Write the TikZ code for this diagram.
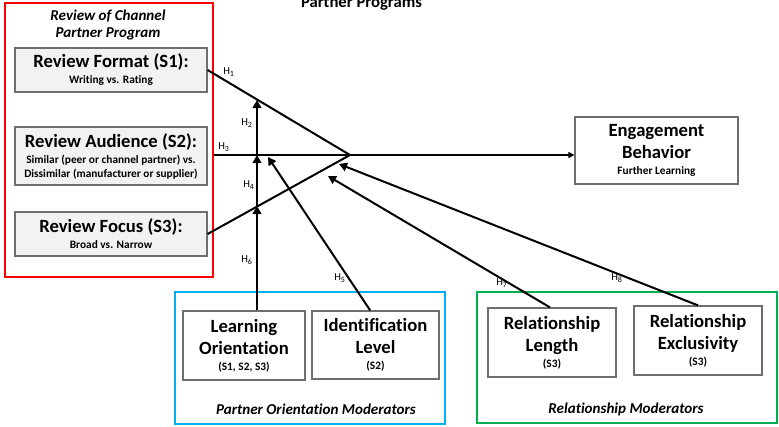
\documentclass[tikz,border=0pt]{standalone}
\usepackage{fontspec}
\setmainfont{Carlito}[Ligatures=NoCommon]
\usetikzlibrary{arrows.meta}

\definecolor{frred}{RGB}{250,0,0}
\definecolor{frblue}{RGB}{0,176,240}
\definecolor{frgreen}{RGB}{0,176,80}
\definecolor{boxline}{RGB}{110,110,110}
\definecolor{boxfill}{RGB}{242,242,242}

\newcommand{\hdfont}{\fontsize{14}{16.5}\selectfont\bfseries}
\newcommand{\smfont}{\fontsize{8.5}{10.5}\selectfont\bfseries}

\tikzset{every picture/.style={line width=0.75pt}}
\tikzset{
  frame/.style={draw, line width=1.5pt, inner sep=0pt},
  framelab/.style={inner sep=0.75pt, align=center, font=\fontsize{11.3}{12.5}\selectfont\bfseries\itshape},
  revbox/.style={draw=boxline, fill=boxfill, line width=0.9pt, inner sep=0pt, align=center, font=\hdfont, minimum width=144pt},
  modbox/.style={draw=boxline, fill=white, line width=0.9pt, inner sep=0pt, align=center, font=\hdfont},
  hlab/.style={inner sep=0.75pt, font=\fontsize{8}{9}\selectfont},
  link/.style={line width=1.5pt},
  hyp/.style={line width=1.5pt, -{Triangle[length=6pt,width=6.5pt]}},
}

\begin{document}
\begin{tikzpicture}[x=0.75pt,y=0.75pt,yscale=-1,xscale=1]
\useasboundingbox (0,0) rectangle (779,426);

%Shape: Frames
\node[frame, draw=frred, minimum width=156pt, minimum height=205.5pt] (review) at (109,140) {};
\node[frame, draw=frblue, minimum width=202.5pt, minimum height=99pt] (partner) at (310,358) {};
\node[frame, draw=frgreen, minimum width=225pt, minimum height=98.25pt] (relation) at (627,357.5) {};

% Text Node
\node[inner sep=0.75pt, anchor=base, font=\fontsize{12.5}{14}\selectfont\bfseries] (title) at (361.5,7) {Partner Programs};
% Text Node
\node[framelab] (revlab) at (108,25) {Review of Channel\\Partner Program};
% Text Node
\node[framelab] (partlab) at (316,409) {Partner Orientation Moderators};
% Text Node
\node[framelab] (rellab) at (626,409) {Relationship Moderators};

%Shape: Rectangle
\node[revbox, minimum height=33pt] (s1) at (111,70) {Review Format (S1):\\[-4.5pt]\smfont Writing vs. Rating};
\node[revbox, minimum height=43.5pt] (s2) at (111,156) {Review Audience (S2):\\[-4.5pt]\smfont Similar (peer or channel partner) vs.\\[-6pt]\smfont Dissimilar (manufacturer or supplier)};
\node[revbox, minimum height=33pt] (s3) at (111,234) {Review Focus (S3):\\[-4.5pt]\smfont Broad vs. Narrow};
\node[modbox, minimum width=122.25pt, minimum height=50.25pt] (eng) at (656.5,150.5) {Engagement\\Behavior\\[-4.5pt]\smfont Further Learning};
\node[modbox, minimum width=91.5pt, minimum height=51.75pt] (lo) at (244,345.5) {Learning\\Orientation\\[-4.5pt]\smfont (S1, S2, S3)};
\node[modbox, minimum width=95.25pt, minimum height=51pt] (il) at (375.5,345) {Identification\\Level\\[-4.5pt]\smfont (S2)};
\node[modbox, minimum width=96pt, minimum height=51.75pt] (rl) at (552,342.5) {Relationship\\Length\\[-4.5pt]\smfont (S3)};
\node[modbox, minimum width=96pt, minimum height=51.75pt] (re) at (698,340.5) {Relationship\\Exclusivity\\[-4.5pt]\smfont (S3)};

%Points
\coordinate (apex) at (350,155);
\coordinate (t2) at (257,100);
\coordinate (t4) at (257,155);
\coordinate (t6) at (257,206);
\coordinate (t5) at (268,157);
\coordinate (t7) at (328,176);
\coordinate (t8) at (339,164);

%Straight Lines
\draw[link] (s1.east) -- (apex);
\draw[link] (s3.east) -- (apex);
\draw[link, -{Triangle[length=4.5pt,width=4.5pt]}] (review.east |- apex) -- (eng.west |- apex);
%Arrows
\draw[hyp] (t6 |- lo.north) -- (t6);
\draw[hyp] (t6) -- (t4);
\draw[hyp] (t4) -- (t2);
\draw[hyp] ([xshift=-4pt]il.north) -- (t5);
\draw[hyp] ([xshift=-1.5pt]rl.north) -- (t7);
\draw[hyp] (re.north) -- (t8);

% Text Node
\node[hlab] (h1) at (229,72) {H\textsubscript{1}};
\node[hlab] (h2) at (247,123) {H\textsubscript{2}};
\node[hlab] (h3) at (224,147) {H\textsubscript{3}};
\node[hlab] (h4) at (249,185) {H\textsubscript{4}};
\node[hlab] (h5) at (340,278) {H\textsubscript{5}};
\node[hlab] (h6) at (247,260) {H\textsubscript{6}};
\node[hlab] (h7) at (502,283) {H\textsubscript{7}};
\node[hlab] (h8) at (617,278) {H\textsubscript{8}};

\end{tikzpicture}
\end{document}
